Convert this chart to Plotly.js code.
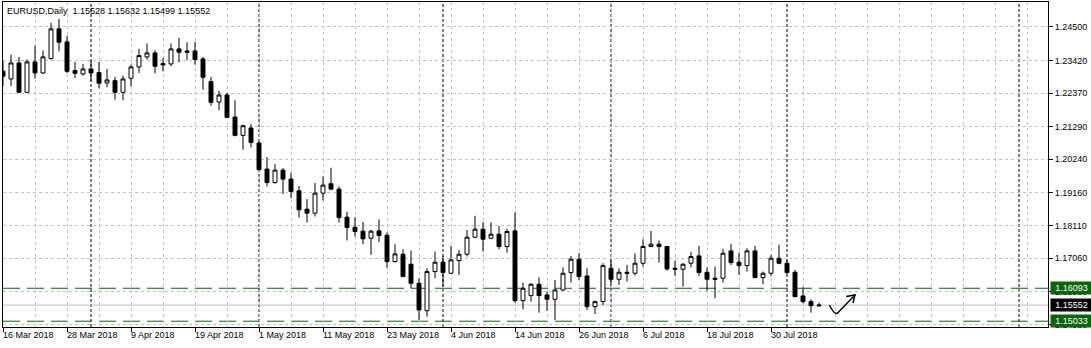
<!DOCTYPE html>
<html>
<head>
<meta charset="utf-8">
<script src="https://cdn.plot.ly/plotly-3.0.1.min.js"></script>
<style>html,body{margin:0;padding:0;background:#fff;}#chart{width:1091px;height:348px;}</style>
</head>
<body>
<div id="chart"></div>
<script>
// ---- data (EURUSD Daily, bar index 0 = 16 Mar 2018) ----
const openP = [1.23071,1.22824,1.23339,1.22395,1.23372,1.23017,1.23479,1.24435,1.24016,1.23093,
1.22985,1.23146,1.23028,1.22695,1.22770,1.22395,1.22846,1.23211,1.23533,1.23662,
1.23318,1.23307,1.23790,1.23726,1.23726,1.23468,1.22738,1.22083,1.22309,1.21600,
1.21010,1.21246,1.20763,1.19925,1.19496,1.19893,1.19603,1.19228,1.18637,1.18508,
1.19152,1.19453,1.19281,1.18379,1.18057,1.17929,1.17703,1.17939,1.17800,1.16952,
1.17188,1.16866,1.16254,1.15373,1.16629,1.16930,1.16576,1.16984,1.17188,1.17735,
1.17993,1.17703,1.17832,1.17435,1.17939,1.15695,1.15856,1.16222,1.15878,1.15738,
1.16039,1.16597,1.17027,1.16490,1.15502,1.15663,1.16737,1.16383,1.16608,1.16576,
1.16898,1.17435,1.17510,1.17435,1.16737,1.16705,1.16898,1.17134,1.16608,1.16415,
1.16415,1.17295,1.16930,1.16823,1.17295,1.16436,1.16576,1.17059,1.16898,1.16608,
1.15846,1.15663,1.15528];
const highP = [1.23393,1.23608,1.23533,1.23447,1.23898,1.23737,1.24628,1.24757,1.24209,1.23372,
1.23307,1.23415,1.23372,1.23146,1.22889,1.22932,1.23286,1.23790,1.23962,1.23747,
1.23501,1.23962,1.24145,1.24005,1.24016,1.23533,1.22889,1.22448,1.22373,1.22137,
1.21353,1.21375,1.20820,1.20312,1.20086,1.19958,1.19807,1.19389,1.18959,1.19475,
1.19689,1.19968,1.19367,1.18551,1.18379,1.18229,1.17971,1.18315,1.17886,1.17510,
1.17349,1.17306,1.16415,1.16737,1.17274,1.17134,1.17456,1.17327,1.17971,1.18422,
1.18218,1.18208,1.18100,1.18004,1.18530,1.16275,1.16254,1.16447,1.15985,1.16361,
1.16769,1.17134,1.17220,1.16737,1.15695,1.16898,1.17005,1.16737,1.16844,1.17220,
1.17671,1.17939,1.17628,1.17456,1.16973,1.16898,1.17263,1.17456,1.16758,1.16791,
1.17360,1.17521,1.17241,1.17381,1.17456,1.16629,1.17166,1.17488,1.17005,1.16683,
1.16125,1.15738,1.15632];
const lowP = [1.22588,1.22588,1.22380,1.22390,1.22835,1.22985,1.23447,1.23715,1.23017,1.22846,
1.22932,1.22749,1.22524,1.22556,1.22159,1.22137,1.22588,1.23017,1.23447,1.23007,
1.23071,1.23232,1.23361,1.23425,1.23286,1.22481,1.21965,1.21815,1.21580,1.20978,
1.20548,1.20623,1.19900,1.19367,1.19453,1.19120,1.18991,1.18369,1.18208,1.18401,
1.18916,1.19259,1.18208,1.17628,1.17757,1.17510,1.17166,1.17574,1.16758,1.16919,
1.16460,1.16093,1.15073,1.15180,1.16415,1.16146,1.16554,1.16522,1.17113,1.17703,
1.17274,1.17671,1.17349,1.17241,1.15631,1.15416,1.15663,1.15309,1.15363,1.15073,
1.16018,1.16275,1.16361,1.15395,1.15266,1.15556,1.16200,1.16200,1.16307,1.16501,
1.16791,1.17413,1.16919,1.16662,1.16490,1.16146,1.16769,1.16490,1.16018,1.15771,
1.16275,1.16844,1.16522,1.16629,1.16415,1.16222,1.16490,1.16866,1.16544,1.15820,
1.15610,1.15309,1.15499];
const closeP = [1.22910,1.23339,1.22395,1.23372,1.23017,1.23533,1.24435,1.24005,1.23071,1.23007,
1.23146,1.23017,1.22685,1.22792,1.22395,1.22824,1.23211,1.23576,1.23662,1.23232,
1.23275,1.23790,1.23683,1.23683,1.23447,1.22878,1.22073,1.22309,1.21590,1.21010,
1.21321,1.20784,1.19904,1.19496,1.19893,1.19603,1.19206,1.18616,1.18508,1.19152,
1.19410,1.19281,1.18369,1.18047,1.17918,1.17682,1.17929,1.17789,1.16952,1.17198,
1.16468,1.16254,1.15395,1.16629,1.16930,1.16597,1.17005,1.17188,1.17735,1.17993,
1.17671,1.17832,1.17435,1.17918,1.15695,1.16093,1.16222,1.15856,1.15738,1.16039,
1.16576,1.17027,1.16468,1.15502,1.15663,1.16823,1.16383,1.16608,1.16576,1.16898,
1.17435,1.17510,1.17435,1.16715,1.16705,1.16866,1.17113,1.16597,1.16383,1.16383,
1.17220,1.16919,1.16823,1.17295,1.16436,1.16576,1.17059,1.16898,1.16597,1.15824,
1.15663,1.15534,1.15552];

const dateTickIdx = [0,8,16,24,32,40,48,56,64,72,80,88,96];
const dateLabels = ['16 Mar 2018','28 Mar 2018','9 Apr 2018','19 Apr 2018','1 May 2018','11 May 2018',
  '23 May 2018','4 Jun 2018','14 Jun 2018','26 Jun 2018','6 Jul 2018','18 Jul 2018','30 Jul 2018'];
const priceTicks = [1.245,1.2342,1.2237,1.2129,1.2024,1.1916,1.1811,1.1706,1.1598,1.1493];
const separatorIdx = [11,32,55,76,98,127];
const levelLines = [1.16093, 1.15033];
const bidPrice = 1.15552;
const headerText = 'EURUSD,Daily  1.15528 1.15632 1.15499 1.15552';
// hand-drawn arrow (bar index, price)
const arrowCurve = [[103.3,1.15556],[103.9,1.15240],[104.3,1.15290],[106.5,1.15878]];
const arrowHead = [[105.4,1.15830],[106.5,1.15878],[106.25,1.15620]];

// ---- styling ----
const FONT = '"Liberation Sans", Arial, sans-serif';
const GREEN = '#0a640a';
const GRID = '#c0c0c0';

const xIdx = openP.map((_, i) => i);

const trace = {
  type: 'candlestick',
  x: xIdx, open: openP, high: highP, low: lowP, close: closeP,
  increasing: {line: {color: '#000', width: 1}, fillcolor: '#ffffff'},
  decreasing: {line: {color: '#000', width: 1}, fillcolor: '#000000'},
  whiskerwidth: 0,
  hoverinfo: 'skip',
  showlegend: false
};

const shapes = [];
separatorIdx.forEach(i => shapes.push({
  type: 'line', xref: 'x', yref: 'paper', x0: i, x1: i, y0: 0, y1: 1,
  line: {color: '#000', width: 1, dash: '3px,2px'}, layer: 'between'
}));
shapes.push({type: 'line', xref: 'paper', yref: 'y', x0: 0, x1: 1, y0: bidPrice, y1: bidPrice,
  line: {color: GRID, width: 1}, layer: 'between'});
levelLines.forEach(p => shapes.push({
  type: 'line', xref: 'paper', yref: 'y', x0: 0, x1: 1, y0: p, y1: p,
  line: {color: GREEN, width: 1, dash: '17px,7px'}, layer: 'between'
}));
const c = arrowCurve;
shapes.push({type: 'path', xref: 'x', yref: 'y',
  path: `M ${c[0][0]},${c[0][1]} Q ${c[1][0]},${c[1][1]} ${c[2][0]},${c[2][1]} L ${c[3][0]},${c[3][1]}`,
  line: {color: '#000', width: 1.5}});
shapes.push({type: 'path', xref: 'x', yref: 'y',
  path: 'M ' + arrowHead.map(p => p[0] + ',' + p[1]).join(' L '),
  line: {color: '#000', width: 1.5}});

const annotations = [];
dateTickIdx.forEach((i, k) => annotations.push({
  x: i, xref: 'x', y: 0, yref: 'paper', yanchor: 'top', xanchor: 'left',
  yshift: -2, xshift: -1, text: dateLabels[k], showarrow: false, borderpad: 0,
  font: {family: FONT, size: 9, color: '#000'}
}));
annotations.push({x: 0, xref: 'paper', y: 1, yref: 'paper', xanchor: 'left', yanchor: 'middle',
  xshift: 3, yshift: -9, text: headerText, showarrow: false, borderpad: 0,
  font: {family: FONT, size: 9, color: '#000'}});
function priceBox(p, bg) {
  return {x: 1, xref: 'paper', y: p, yref: 'y', xanchor: 'left', yanchor: 'middle', xshift: 2,
    text: p.toFixed(5), showarrow: false, bgcolor: bg, borderpad: 2, width: 37, height: 8,
    font: {family: FONT, size: 9, color: '#fff'}};
}
levelLines.forEach(p => annotations.push(priceBox(p, GREEN)));
annotations.push(priceBox(bidPrice, '#000'));

const layout = {
  width: 1091, height: 348,
  margin: {l: 3, r: 43, t: 2, b: 21, pad: 0},
  paper_bgcolor: '#fff', plot_bgcolor: '#fff',
  showlegend: false,
  font: {family: FONT, size: 9, color: '#000'},
  xaxis: {
    range: [0, 130.625], tickmode: 'array', tickvals: dateTickIdx, ticktext: dateLabels,
    showticklabels: false, ticks: 'outside', ticklen: 4, tickcolor: '#000', tickwidth: 1,
    showgrid: true, gridcolor: GRID, griddash: '3px,3px', gridwidth: 1,
    minor: {tickmode: 'linear', tick0: 0, dtick: 4, showgrid: true, gridcolor: GRID,
      griddash: '3px,3px', gridwidth: 1, ticks: ''},
    showline: true, mirror: true, linecolor: '#000', linewidth: 1, zeroline: false,
    rangeslider: {visible: false}, fixedrange: true
  },
  yaxis: {
    side: 'right', range: [1.148472, 1.252988], tickmode: 'array', tickvals: priceTicks,
    ticktext: priceTicks.map(v => v.toFixed(5)), ticks: 'outside', ticklen: 4, tickcolor: '#000',
    showgrid: true, gridcolor: GRID, griddash: '3px,3px', gridwidth: 1,
    showline: true, mirror: true, linecolor: '#000', linewidth: 1, zeroline: false,
    tickfont: {family: FONT, size: 9, color: '#000'}, fixedrange: true
  },
  shapes: shapes,
  annotations: annotations,
  hovermode: false
};

Plotly.newPlot('chart', [trace], layout, {displayModeBar: false, staticPlot: true});
</script>
</body>
</html>
